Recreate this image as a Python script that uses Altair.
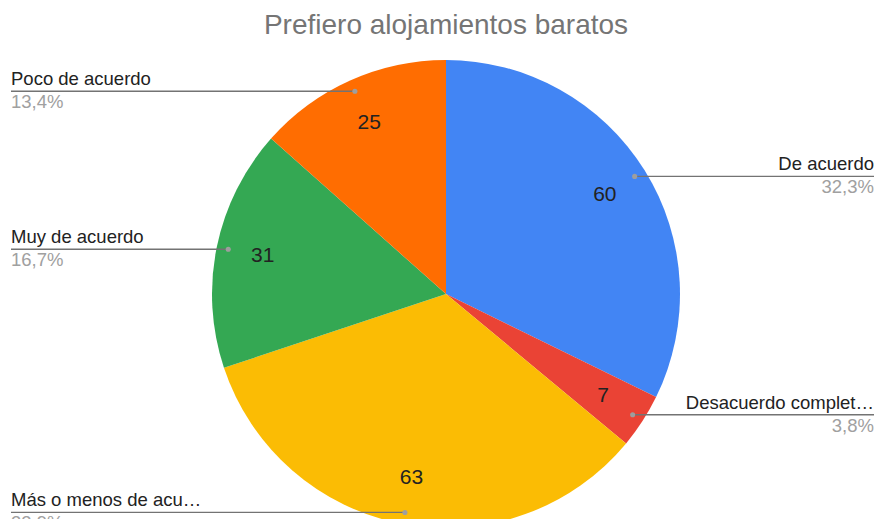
import altair as alt
import numpy as np
import pandas as pd

# ---- data ----
categories = ["De acuerdo", "Desacuerdo complet…", "Más o menos de acu…",
              "Muy de acuerdo", "Poco de acuerdo"]
values = [60, 7, 63, 31, 25]
pct_labels = ["32,3%", "3,8%", "33,9%", "16,7%", "13,4%"]
colors = ["#4285F4", "#EA4335", "#FBBC04", "#34A853", "#FF6D01"]
title_text = "Prefiero alojamientos baratos"

# ---- layout (pixels, chart coordinates) ----
W, H = 867, 511
CX, CY, R = 438, 286, 234
FONT = "Liberation Sans"

vals = np.array(values, dtype=float)
total = vals.sum()
cum = np.concatenate([[0], np.cumsum(vals)[:-1]])
mid = (cum + vals / 2) / total * 2 * np.pi
right = np.sin(mid) > 0

df = pd.DataFrame({
    "cat": categories,
    "value": values,
    "pct": pct_labels,
    "order": list(range(len(values))),
    "dot_x": CX + 0.95 * R * np.sin(mid),
    "dot_y": CY - 0.95 * R * np.cos(mid),
    "val_x": CX + 0.80 * R * np.sin(mid),
    "val_y": CY - 0.80 * R * np.cos(mid),
    "edge_x": np.where(right, W - 1, 3),
    "side": np.where(right, "right", "left"),
})

xs = alt.Scale(domain=[0, W])
ys = alt.Scale(domain=[0, H], reverse=True)

base = alt.Chart(df)

pie = base.mark_arc(outerRadius=R).encode(
    theta=alt.Theta("value:Q", stack=True),
    order=alt.Order("order:Q"),
    color=alt.Color("cat:N", scale=alt.Scale(domain=categories, range=colors), legend=None),
    x=alt.value(CX),
    y=alt.value(CY),
)

val_text = base.mark_text(fontSize=21, font=FONT, color="#222222", baseline="middle").encode(
    x=alt.X("val_x:Q", scale=xs, axis=None),
    y=alt.Y("val_y:Q", scale=ys, axis=None),
    text="value:Q",
)

lines = base.mark_rule(color="#737373", strokeWidth=1.3).encode(
    x=alt.X("dot_x:Q", scale=xs, axis=None),
    x2="edge_x:Q",
    y=alt.Y("dot_y:Q", scale=ys, axis=None),
)

dots = base.mark_circle(size=26, color="#9e9e9e", opacity=1).encode(
    x=alt.X("dot_x:Q", scale=xs, axis=None),
    y=alt.Y("dot_y:Q", scale=ys, axis=None),
)

layers = [pie, val_text, lines, dots]
for side in ["left", "right"]:
    sub = base.transform_filter(alt.datum.side == side)
    layers.append(sub.mark_text(align=side, baseline="alphabetic", dy=-6, fontSize=18.5,
                                font=FONT, color="#222222").encode(
        x=alt.X("edge_x:Q", scale=xs, axis=None),
        y=alt.Y("dot_y:Q", scale=ys, axis=None),
        text="cat:N",
    ))
    layers.append(sub.mark_text(align=side, baseline="alphabetic", dy=17, fontSize=18.5,
                                font=FONT, color="#a0a0a0").encode(
        x=alt.X("edge_x:Q", scale=xs, axis=None),
        y=alt.Y("dot_y:Q", scale=ys, axis=None),
        text="pct:N",
    ))

title = alt.Chart(pd.DataFrame({"t": [title_text]})).mark_text(
    fontSize=28, font=FONT, color="#757575", baseline="middle", align="center"
).encode(x=alt.value(CX), y=alt.value(18), text="t:N")
layers.append(title)

chart = alt.layer(*layers).properties(
    width=W, height=H,
    autosize=alt.AutoSizeParams(type="none"),
    padding=0,
).configure_view(stroke=None)

chart.save("out.html", embed_options={"renderer": "svg", "actions": False})
